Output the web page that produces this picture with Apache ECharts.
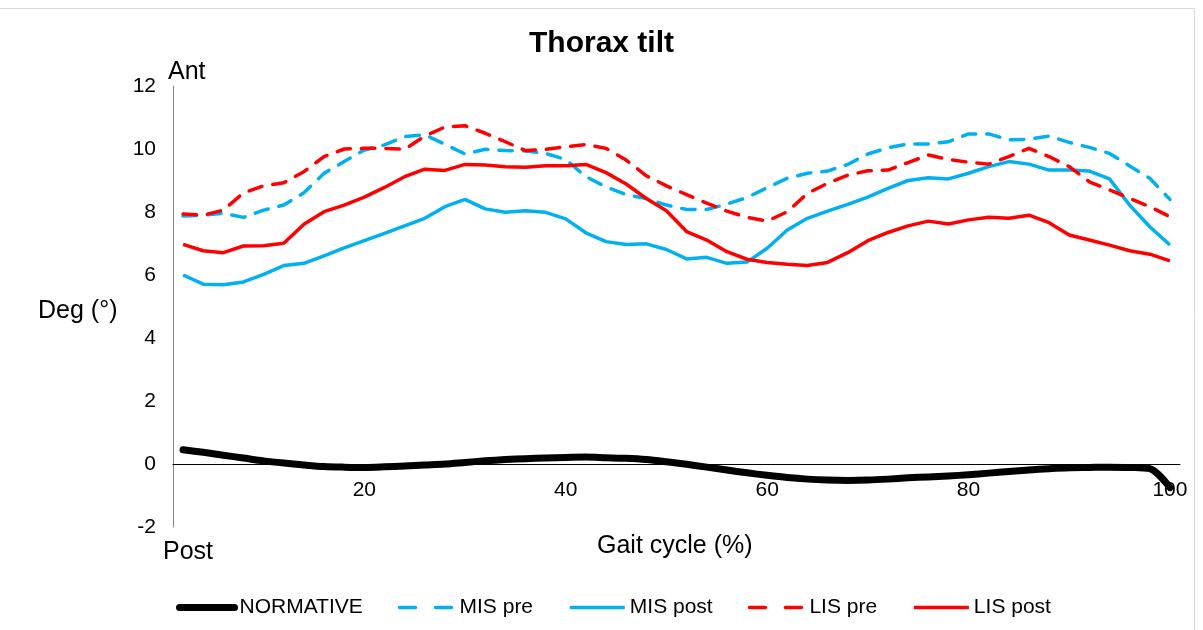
<!DOCTYPE html>
<html>
<head>
<meta charset="utf-8">
<script src="https://cdn.jsdelivr.net/npm/echarts@6/dist/echarts.min.js"></script>
<style>
html,body{margin:0;padding:0;background:#fff;}
#chart{width:1203px;height:630px;}
</style>
</head>
<body>
<div id="chart"></div>
<script>
// Gait cycle (%) sample positions
var gaitCycle = [2,4,6,8,10,12,14,16,18,20,22,24,26,28,30,32,34,36,38,40,42,44,46,48,50,52,54,56,58,60,62,64,66,68,70,72,74,76,78,80,82,84,86,88,90,92,94,96,98,100];
var xTickLabels = [20,40,60,80,100];
var seriesNames = ['NORMATIVE','MIS pre','MIS post','LIS pre','LIS post'];

var normative = [0.45,0.37,0.28,0.19,0.10,0.03,-0.03,-0.08,-0.10,-0.11,-0.09,-0.06,-0.03,0.00,0.05,0.10,0.14,0.17,0.19,0.21,0.22,0.20,0.18,0.14,0.07,-0.01,-0.10,-0.19,-0.28,-0.36,-0.43,-0.48,-0.51,-0.52,-0.51,-0.48,-0.44,-0.41,-0.38,-0.34,-0.29,-0.24,-0.19,-0.15,-0.12,-0.11,-0.10,-0.11,-0.15,-0.75];
var misPre = [7.87,7.90,7.96,7.83,8.06,8.22,8.61,9.23,9.60,9.97,10.13,10.39,10.45,10.15,9.84,9.99,9.95,9.94,9.86,9.67,9.12,8.80,8.55,8.43,8.22,8.08,8.08,8.25,8.46,8.77,9.07,9.23,9.30,9.51,9.84,10.04,10.16,10.16,10.23,10.48,10.48,10.29,10.31,10.41,10.21,10.05,9.86,9.46,9.07,8.40];
var misPost = [6.00,5.71,5.69,5.78,6.02,6.30,6.37,6.61,6.86,7.09,7.32,7.56,7.80,8.17,8.40,8.10,7.99,8.04,7.99,7.78,7.34,7.06,6.97,6.99,6.81,6.51,6.56,6.37,6.41,6.85,7.43,7.80,8.03,8.24,8.47,8.75,9.00,9.09,9.05,9.23,9.44,9.60,9.52,9.33,9.33,9.30,9.05,8.22,7.53,6.95];
var lisPre = [7.94,7.90,8.06,8.61,8.83,8.93,9.28,9.76,10.00,10.02,10.02,9.99,10.41,10.70,10.74,10.50,10.23,9.95,9.99,10.07,10.14,10.02,9.65,9.15,8.83,8.55,8.28,8.03,7.83,7.71,8.01,8.59,8.91,9.17,9.31,9.33,9.57,9.81,9.67,9.58,9.52,9.76,10.02,9.76,9.44,8.96,8.70,8.43,8.17,7.85];
var lisPost = [6.97,6.77,6.71,6.92,6.93,7.01,7.61,8.01,8.22,8.47,8.78,9.12,9.36,9.32,9.51,9.49,9.44,9.42,9.47,9.47,9.51,9.25,8.89,8.43,8.04,7.38,7.11,6.74,6.50,6.40,6.34,6.30,6.40,6.71,7.09,7.35,7.56,7.71,7.62,7.75,7.83,7.80,7.90,7.66,7.27,7.11,6.95,6.77,6.66,6.45];

function pairs(vals){ return gaitCycle.map(function(x,i){ return [x, vals[i]]; }); }

var FONT = '"Liberation Sans", Arial, sans-serif';
var BLUE = '#00B0F0', RED = '#FF0000';
var dash = [13.5, 11];
var legendDash = [16, 20];

var chart = echarts.init(document.getElementById('chart'), null, {renderer:'canvas'});
chart.setOption({
  animation: false,
  backgroundColor: '#ffffff',
  textStyle: {fontFamily: FONT, color: '#000'},
  title: {
    text: 'Thorax tilt', left: 'center', top: 24,
    textStyle: {fontFamily: FONT, fontSize: 30, fontWeight: 'bold', color: '#000'}
  },
  legend: {
    data: [
      {name: seriesNames[0], lineStyle: {width: 7, cap: 'round'}},
      {name: seriesNames[1], lineStyle: {width: 3.5, cap: 'round', type: legendDash}},
      {name: seriesNames[2], lineStyle: {width: 3.5}},
      {name: seriesNames[3], lineStyle: {width: 3.5, cap: 'round', type: legendDash}},
      {name: seriesNames[4], lineStyle: {width: 3.5}}
    ],
    left: 171, top: 592,
    itemWidth: 55, itemHeight: 14, itemGap: 35,
    itemStyle: {opacity: 0},
    textStyle: {fontFamily: FONT, fontSize: 21, color: '#000'}
  },
  grid: {left: 173, right: 23, top: 86, bottom: 103, containLabel: false},
  xAxis: {
    type: 'value', min: 1, max: 101,
    offset: -63,
    axisLine: {show: true, onZero: false, lineStyle: {color: '#000', width: 1}},
    axisTick: {show: false},
    splitLine: {show: false},
    axisLabel: {customValues: xTickLabels, fontSize: 21, color: '#000', margin: 16, fontFamily: FONT}
  },
  yAxis: {
    type: 'value', min: -2, max: 12, interval: 2,
    axisLine: {show: true, lineStyle: {color: '#868686', width: 1}},
    axisTick: {show: false},
    splitLine: {show: false},
    axisLabel: {fontSize: 21, color: '#000', margin: 17, fontFamily: FONT}
  },
  graphic: [
    {type: 'rect', shape: {x: -2, y: 8.5, width: 1196.5, height: 640}, style: {fill: 'none', stroke: '#d9d9d9', lineWidth: 1}, silent: true},
    {type: 'text', left: 168, top: 60, style: {text: 'Ant', font: '25px ' + FONT, fill: '#000'}},
    {type: 'text', left: 163, top: 540, style: {text: 'Post', font: '25px ' + FONT, fill: '#000'}},
    {type: 'text', left: 38, top: 299, style: {text: 'Deg (°)', font: '25px ' + FONT, fill: '#000'}},
    {type: 'text', left: 597, top: 534, style: {text: 'Gait cycle (%)', font: '25px ' + FONT, fill: '#000'}}
  ],
  series: [
    {name: seriesNames[0], type: 'line', data: pairs(normative), symbol: 'none', smooth: 0.3,
     lineStyle: {color: '#000', width: 7, cap: 'round', join: 'round'}, itemStyle: {color: '#000'}},
    {name: seriesNames[1], type: 'line', data: pairs(misPre), symbol: 'none',
     lineStyle: {color: BLUE, width: 3.5, type: dash, cap: 'round', join: 'round'}, itemStyle: {color: BLUE}},
    {name: seriesNames[2], type: 'line', data: pairs(misPost), symbol: 'none',
     lineStyle: {color: BLUE, width: 3.5, join: 'round'}, itemStyle: {color: BLUE}},
    {name: seriesNames[3], type: 'line', data: pairs(lisPre), symbol: 'none',
     lineStyle: {color: RED, width: 3.5, type: dash, cap: 'round', join: 'round'}, itemStyle: {color: RED}},
    {name: seriesNames[4], type: 'line', data: pairs(lisPost), symbol: 'none',
     lineStyle: {color: RED, width: 3.5, join: 'round'}, itemStyle: {color: RED}}
  ]
});
</script>
</body>
</html>
